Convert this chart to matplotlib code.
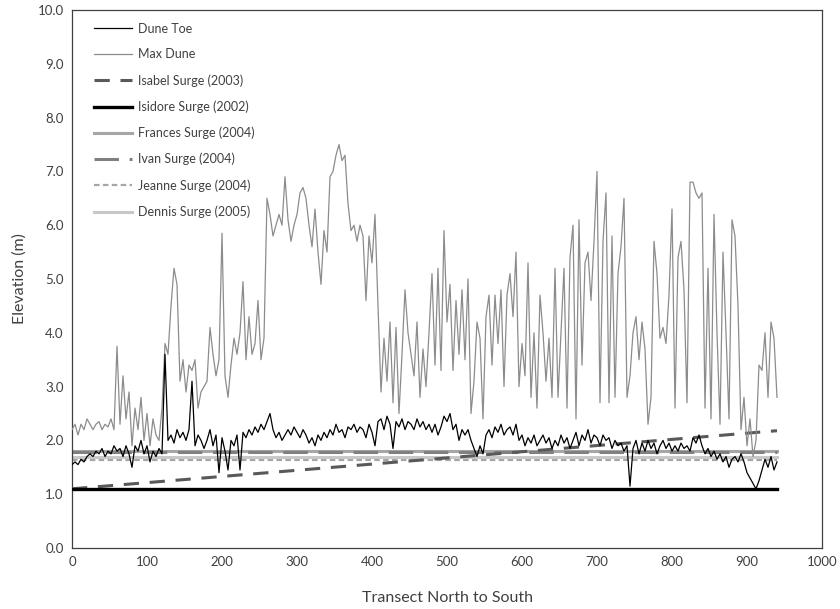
import numpy as np
import matplotlib
matplotlib.use("Agg")
import matplotlib.pyplot as plt

plt.rcParams['font.family'] = ['Lato', 'DejaVu Sans']

# transects are sampled every 4 positions, north (0) to south (940)
step = 4

# dune toe elevation (m)
dune_toe = [
    1.55, 1.60, 1.55, 1.65, 1.60, 1.70, 1.75, 1.70, 1.80, 1.75,
    1.85, 1.70, 1.80, 1.75, 1.90, 1.80, 1.85, 1.70, 1.90, 1.75,
    1.50, 1.90, 1.80, 2.00, 1.75, 1.90, 1.60, 1.80, 1.70, 1.85,
    1.75, 3.60, 2.00, 2.10, 1.95, 2.20, 2.05, 2.15, 2.00, 2.20,
    3.10, 1.90, 2.10, 2.00, 1.85, 2.00, 2.20, 1.90, 2.10, 1.40,
    2.05, 1.80, 1.45, 2.00, 1.90, 2.10, 1.45, 2.15, 2.05, 2.20,
    2.10, 2.25, 2.15, 2.30, 2.20, 2.35, 2.50, 2.20, 2.05, 2.15,
    2.00, 2.10, 2.20, 2.10, 2.25, 2.15, 2.05, 2.20, 2.10, 1.95,
    2.05, 1.90, 2.10, 2.00, 2.15, 2.05, 2.20, 2.10, 2.30, 2.15,
    2.20, 2.05, 2.25, 2.20, 2.30, 2.15, 2.25, 2.20, 2.05, 2.30,
    2.15, 1.90, 2.35, 2.40, 2.20, 2.45, 2.30, 1.85, 2.35, 2.25,
    2.40, 2.20, 2.35, 2.30, 2.20, 2.40, 2.25, 2.35, 2.20, 2.30,
    2.15, 2.30, 2.10, 2.25, 2.45, 2.35, 2.50, 2.20, 2.30, 2.00,
    2.20, 2.10, 2.20, 2.00, 1.85, 1.70, 1.90, 1.75, 2.10, 2.20,
    2.05, 2.25, 2.15, 2.30, 2.10, 2.20, 2.25, 2.10, 2.30, 2.00,
    2.10, 1.90, 2.05, 1.95, 2.10, 1.90, 2.00, 2.10, 1.95, 2.05,
    1.85, 2.00, 1.90, 2.10, 1.95, 2.05, 1.85, 2.00, 2.15, 1.90,
    2.10, 2.00, 2.20, 1.95, 2.10, 2.05, 1.90, 2.10, 2.00, 2.05,
    1.85, 2.00, 1.90, 1.95, 1.80, 1.90, 1.15, 1.85, 2.00, 1.75,
    1.95, 1.80, 2.00, 1.85, 1.95, 1.75, 1.90, 2.00, 1.85, 1.95,
    1.80, 1.90, 1.80, 1.95, 1.85, 1.90, 1.80, 2.05, 1.95, 2.10,
    1.90, 1.75, 1.85, 1.70, 1.80, 1.65, 1.75, 1.60, 1.70, 1.50,
    1.65, 1.70, 1.60, 1.75, 1.60, 1.40, 1.30, 1.20, 1.10, 1.25,
    1.45, 1.65, 1.50, 1.70, 1.45, 1.60,
]

# maximum dune crest elevation (m)
max_dune = [
    2.20, 2.30, 2.10, 2.30, 2.20, 2.40, 2.30, 2.20, 2.30, 2.35,
    2.20, 2.30, 2.25, 2.40, 2.20, 3.75, 2.30, 3.20, 2.40, 2.90,
    1.90, 2.60, 2.20, 2.80, 2.00, 2.50, 1.90, 2.40, 2.10, 2.00,
    2.60, 3.80, 3.60, 4.50, 5.20, 4.90, 3.10, 3.50, 2.90, 3.40,
    3.30, 3.50, 2.60, 2.90, 3.00, 3.10, 4.10, 3.60, 3.20, 3.50,
    5.85, 3.20, 2.80, 3.40, 3.90, 3.60, 4.00, 4.95, 3.50, 4.30,
    3.60, 3.80, 4.60, 3.50, 3.90, 6.50, 6.20, 5.80, 6.00, 6.20,
    6.00, 6.90, 6.10, 5.70, 6.00, 6.20, 6.60, 6.70, 6.50, 6.00,
    5.60, 6.30, 5.50, 4.90, 5.90, 5.50, 6.90, 7.00, 7.30, 7.50,
    7.20, 7.30, 6.40, 5.90, 6.00, 5.70, 6.00, 5.80, 4.60, 5.80,
    5.30, 6.20, 4.50, 2.90, 3.90, 3.10, 4.20, 2.70, 4.10, 2.50,
    3.60, 4.80, 4.00, 3.60, 3.20, 4.20, 2.80, 3.70, 3.00, 4.00,
    5.10, 3.40, 5.20, 3.30, 5.90, 4.20, 4.90, 3.30, 4.60, 3.60,
    4.80, 3.50, 5.00, 2.50, 3.10, 4.20, 3.90, 2.40, 4.30, 4.70,
    3.40, 4.70, 3.80, 4.80, 3.00, 4.70, 5.10, 4.30, 5.50, 3.00,
    3.80, 3.20, 5.30, 2.80, 4.00, 2.60, 4.70, 4.00, 3.10, 3.90,
    2.80, 5.20, 2.80, 4.00, 5.20, 2.60, 5.40, 6.00, 2.40, 6.10,
    3.40, 5.30, 5.50, 4.60, 5.70, 7.00, 2.70, 5.70, 6.60, 2.70,
    5.80, 2.80, 5.10, 5.60, 6.50, 2.80, 3.20, 4.00, 4.30, 3.50,
    4.20, 3.70, 2.30, 2.80, 5.70, 5.10, 3.90, 4.10, 3.80, 4.70,
    6.30, 2.60, 5.40, 5.70, 4.80, 2.70, 6.80, 6.80, 6.60, 6.50,
    6.60, 2.60, 5.20, 2.40, 6.20, 4.00, 2.30, 5.50, 4.00, 2.40,
    6.10, 5.80, 4.50, 2.20, 2.80, 1.90, 2.40, 1.70, 2.00, 3.40,
    3.30, 4.00, 2.80, 4.20, 3.90, 2.80,
]

# storm surge levels (m); Isabel is given at both ends of the transect
isabel_surge = [1.10, 2.18]
isidore_surge = 1.10
frances_surge = 1.80
ivan_surge = 1.78
jeanne_surge = 1.63
dennis_surge = 1.70

x = np.arange(len(dune_toe)) * step
x_end = x[-1]

fig = plt.figure(figsize=(8.4, 6.09), dpi=100)
ax = fig.add_axes([72 / 840, 61 / 609, 750 / 840, 538 / 609])

ax.plot(x, dune_toe, color='black', lw=0.9, label='Dune Toe', zorder=5)
ax.plot(x, max_dune, color='#8c8c8c', lw=0.9, label='Max Dune', zorder=4)
ax.plot([0, x_end], isabel_surge, color='#595959', lw=2.2,
        dashes=(5, 3.5), label='Isabel Surge (2003)', zorder=3)
ax.plot([0, x_end], [isidore_surge] * 2, color='black', lw=2.4,
        label='Isidore Surge (2002)', zorder=3)
ax.plot([0, x_end], [frances_surge] * 2, color='#a6a6a6', lw=2.2,
        label='Frances Surge (2004)', zorder=2)
ax.plot([0, x_end], [ivan_surge] * 2, color='#808080', lw=2.2,
        dashes=(8, 3.5), label='Ivan Surge (2004)', zorder=2)
ax.plot([0, x_end], [jeanne_surge] * 2, color='#a6a6a6', lw=1.6,
        dashes=(2.5, 1.5), label='Jeanne Surge (2004)', zorder=2)
ax.plot([0, x_end], [dennis_surge] * 2, color='#c8c8c8', lw=2.2,
        label='Dennis Surge (2005)', zorder=2)

ax.set_xlim(0, 1000)
ax.set_ylim(0, 10)
ax.set_xticks(np.arange(0, 1001, 100))
ax.set_yticks(np.arange(0, 10.01, 1.0))
ax.set_yticklabels([f'{v:.1f}' for v in np.arange(0, 10.01, 1.0)])
ax.tick_params(length=0, labelsize=9.5, colors='#404040', pad=6)
for s in ax.spines.values():
    s.set_color('#404040')
    s.set_linewidth(0.9)

ax.set_xlabel('Transect North to South', fontsize=11.5, color='#404040', labelpad=16)
ax.set_ylabel('Elevation (m)', fontsize=11.5, color='#404040', labelpad=8)

leg = ax.legend(loc='upper left', bbox_to_anchor=(0.022, 0.986), frameon=False,
                fontsize=9, handlelength=3.1, handletextpad=0.5,
                labelspacing=1.1, borderaxespad=0)
for t in leg.get_texts():
    t.set_color('#404040')

fig.savefig('out.png', dpi=100)
